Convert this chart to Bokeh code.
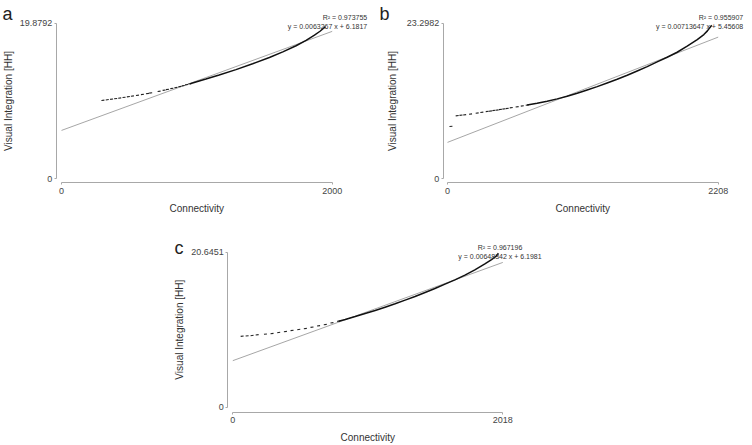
import math
from bokeh.plotting import figure
from bokeh.models import Range1d, FixedTicker, CustomJSTickFormatter, Label, Spacer
from bokeh.layouts import column, row
from bokeh.embed import file_html
from bokeh.resources import INLINE

FONT = "Liberation Sans"

# ---------------- data ----------------
x_title = "Connectivity"
y_title = "Visual Integration [HH]"

# panel a
a_xmax = 2000
a_ymax = 19.8792
a_sparse_x = [306, 338, 370, 400, 430, 462, 494, 524, 561, 598, 635, 659, 721, 758, 783, 815, 845, 874, 899, 924, 948]
a_sparse_y = [10.03, 10.10, 10.17, 10.24, 10.32, 10.40, 10.49, 10.57, 10.67, 10.78, 10.89, 10.97, 11.18, 11.32, 11.41, 11.54, 11.66, 11.79, 11.90, 12.02, 12.13]
a_dense_x = [948, 968, 1067, 1165, 1289, 1412, 1536, 1635, 1733, 1807, 1869, 1910, 1950]
a_dense_y = [12.13, 12.24, 12.74, 13.27, 13.95, 14.70, 15.50, 16.22, 17.00, 17.68, 18.35, 18.85, 19.45]
a_fit_x = [0, 2000]
a_fit_y = [6.1817, 18.8351]
a_r2 = "R\u00b2 = 0.973755"
a_eq = "y = 0.0063267 x + 6.1817"

# panel b
b_xmax = 2208
b_ymax = 23.2982
b_sparse_x = [28, 79, 110, 140, 188, 242, 280, 324, 350, 378, 405, 432, 460, 487, 520, 568, 610, 650]
b_sparse_y = [7.85, 9.45, 9.52, 9.58, 9.70, 9.84, 9.95, 10.08, 10.15, 10.23, 10.30, 10.38, 10.46, 10.54, 10.64, 10.78, 10.91, 11.04]
b_dense_x = [650, 731, 813, 895, 976, 1058, 1139, 1221, 1302, 1384, 1466, 1547, 1629, 1710, 1792, 1873, 1955, 2037, 2091, 2120, 2155]
b_dense_y = [11.04, 11.32, 11.62, 11.97, 12.35, 12.80, 13.30, 13.80, 14.35, 14.90, 15.50, 16.15, 16.80, 17.50, 18.20, 18.95, 19.85, 20.85, 21.60, 22.15, 23.00]
b_fit_x = [0, 2208]
b_fit_y = [5.45608, 21.2134]
b_r2 = "R\u00b2 = 0.955907"
b_eq = "y = 0.00713647 x + 5.45608"

# panel c
c_xmax = 2018
c_ymax = 20.6451
c_sparse_x = [70, 107, 144, 182, 244, 293, 343, 393, 443, 493, 542, 592, 641, 691, 741, 791]
c_sparse_y = [9.46, 9.50, 9.55, 9.64, 9.73, 9.81, 9.95, 10.08, 10.22, 10.35, 10.48, 10.66, 10.84, 11.01, 11.24, 11.46]
c_dense_x = [791, 840, 915, 989, 1064, 1138, 1213, 1288, 1362, 1437, 1511, 1586, 1660, 1735, 1809, 1884, 1934, 1971, 1985]
c_dense_y = [11.46, 11.68, 12.08, 12.48, 12.88, 13.32, 13.77, 14.26, 14.74, 15.28, 15.81, 16.39, 16.96, 17.59, 18.30, 19.09, 19.67, 20.15, 20.50]
c_fit_x = [0, 2018]
c_fit_y = [6.1981, 19.2816]
c_r2 = "R\u00b2 = 0.967196"
c_eq = "y = 0.00648342 x + 6.1981"

panel_letters = ["a", "b", "c"]


# ---------------- drawing ----------------
def make_panel(g, xmax, ymax, sx_, sy_, dx_, dy_, fx, fy, r2, eq, letter):
    sx = (g["x1px"] - g["x0px"]) / xmax
    sy = (g["y0py"] - g["y1py"]) / ymax

    def dx(px):
        return (px - g["x0px"]) / sx

    def dy(py):
        return (g["y0py"] - py) / sy

    p = figure(width=g["W"], height=g["H"],
               x_range=Range1d(dx(g["left"]), dx(g["left"] + g["W"])),
               y_range=Range1d(dy(g["top"] + g["H"]), dy(g["top"])),
               output_backend="svg", toolbar_location=None,
               min_border=0)
    p.outline_line_color = None
    p.xgrid.visible = False
    p.ygrid.visible = False
    p.background_fill_color = "white"
    p.border_fill_color = "white"

    xa = p.xaxis[0]
    ya = p.yaxis[0]
    xa.fixed_location = dy(g["xaxis_py"])
    ya.fixed_location = dx(g["yaxis_px"])
    xa.bounds = (0, xmax)
    ya.bounds = (0, ymax)
    xa.ticker = FixedTicker(ticks=[0, xmax])
    ya.ticker = FixedTicker(ticks=[0, ymax])
    for ax in (xa, ya):
        ax.formatter = CustomJSTickFormatter(code="return tick.toString();")
        ax.axis_line_color = "#a8a8a8"
        ax.axis_line_width = 1
        ax.major_tick_line_color = "#a8a8a8"
        ax.major_tick_in = 0
        ax.major_tick_out = 2
        ax.minor_tick_line_color = None
        ax.major_label_text_font = FONT
        ax.major_label_text_font_size = "9px"
        ax.major_label_text_color = "#444444"
    xa.major_label_standoff = 3
    ya.major_label_standoff = 2

    p.line(fx, fy, line_color="#8f8f8f", line_width=0.8)
    p.scatter(sx_, sy_, marker="dash", size=3, angle=0.12, line_color="#222222", line_width=1.1)
    p.line(dx_, dy_, line_color="#111111", line_width=1.5)

    # axis titles
    p.add_layout(Label(x=dx(g["xt"][0]), y=dy(g["xt"][1]), text=x_title,
                       text_font=FONT, text_font_size="10px", text_color="#333333",
                       text_align="center", text_baseline="middle"))
    p.add_layout(Label(x=dx(g["yt"][0]), y=dy(g["yt"][1]), text=y_title, angle=math.pi / 2,
                       text_font=FONT, text_font_size="10px", text_color="#333333",
                       text_align="center", text_baseline="middle"))
    # panel letter
    p.add_layout(Label(x=dx(g["let"][0]), y=dy(g["let"][1]), text=letter,
                       text_font=FONT, text_font_size="18px", text_color="#222222",
                       text_align="left", text_baseline="alphabetic"))
    # regression annotation
    tx, ty1, ty2, talign = g["txt"]
    for t, ty in ((r2, ty1), (eq, ty2)):
        p.add_layout(Label(x=dx(tx), y=dy(ty), text=t, text_font=FONT,
                           text_font_size="7px", text_color="#333333",
                           text_align=talign, text_baseline="middle"))
    return p


# page-pixel geometry of each panel
geom_a = dict(left=0, top=0, W=376, H=222,
              x0px=61, x1px=331.7, y0py=178.3, y1py=22.7, xaxis_py=182.3, yaxis_px=55.7,
              xt=(196.3, 208.0), yt=(7.5, 100.5), let=(2, 13),
              txt=(366.7, 17.3, 26.0, "right"))
geom_b = dict(left=376, top=0, W=376, H=222,
              x0px=447, x1px=717.7, y0py=178.3, y1py=22.7, xaxis_py=182.3, yaxis_px=442.7,
              xt=(582.3, 208.0), yt=(392.0, 100.5), let=(379, 13.3),
              txt=(742.7, 17.3, 25.5, "right"))
geom_c = dict(left=160, top=222, W=400, H=223,
              x0px=232.3, x1px=502.3, y0py=406.7, y1py=251.7, xaxis_py=411.5, yaxis_px=227.3,
              xt=(367.3, 437.0), yt=(178.5, 329.2), let=(174, 247),
              txt=(499.5, 247.0, 255.5, "center"))

pa = make_panel(geom_a, a_xmax, a_ymax, a_sparse_x, a_sparse_y, a_dense_x, a_dense_y,
                a_fit_x, a_fit_y, a_r2, a_eq, panel_letters[0])
pb = make_panel(geom_b, b_xmax, b_ymax, b_sparse_x, b_sparse_y, b_dense_x, b_dense_y,
                b_fit_x, b_fit_y, b_r2, b_eq, panel_letters[1])
pc = make_panel(geom_c, c_xmax, c_ymax, c_sparse_x, c_sparse_y, c_dense_x, c_dense_y,
                c_fit_x, c_fit_y, c_r2, c_eq, panel_letters[2])

layout = column(row(pa, pb), row(Spacer(width=160, height=223), pc))

open("out.html", "w").write(file_html(layout, INLINE))
